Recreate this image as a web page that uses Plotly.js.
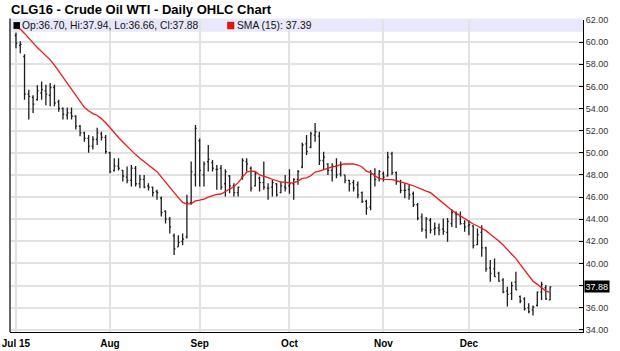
<!DOCTYPE html>
<html>
<head>
<meta charset="utf-8">
<script src="https://cdn.plot.ly/plotly-3.0.1.min.js"></script>
<style>html,body{margin:0;padding:0;background:#fff;}#chart{width:620px;height:351px;}</style>
</head>
<body>
<div id="chart"></div>
<script>
// ---- trading days (2015) ----
const julDays = [1,2,6,7,8,9,10,13,14,15,16,17,20,21,22,23,24,27,28,29,30,31];
const augDays = [3,4,5,6,7,10,11,12,13,14,17,18,19,20,21,24,25,26,27,28,31];
const sepDays = [1,2,3,4,8,9,10,11,14,15,16,17,18,21,22,23,24,25,28,29,30];
const octDays = [1,2,5,6,7,8,9,12,13,14,15,16,19,20,21,22,23,26,27,28,29,30];
const novDays = [2,3,4,5,6,9,10,11,12,13,16,17,18,19,20,23,24,25,27,30];
const decDays = [1,2,3,4,7,8,9,10,11,14,15,16,17,18,21,22,23,24,28,29];

// ---- OHLC values ----
const opens = [60.6,59.7,58.7,55.3,55.0,54.8,55.4,55.6,55.2,55.9,54.6,54.0,53.4,53.6,53.3,52.4,51.8,51.3,50.6,51.2,51.7,51.4,
  50.0,48.4,48.8,48.4,47.8,47.5,48.6,47.2,47.6,47.0,46.9,46.5,45.9,44.7,44.0,42.5,41.5,42.0,42.4,45.5,48.0,
  51.1,48.0,49.2,49.1,48.5,48.6,47.2,47.9,47.0,46.4,47.8,49.2,48.6,47.0,47.7,47.3,46.8,46.9,47.2,46.4,46.9,
  47.0,47.2,47.6,48.7,50.8,50.5,51.6,51.5,49.3,49.0,48.4,48.8,48.1,48.0,47.5,47.3,47.1,46.4,45.6,45.1,48.1,47.7,
  48.1,47.9,49.9,48.2,47.4,46.6,46.7,46.3,45.3,44.2,43.0,43.9,43.1,43.2,43.1,42.8,43.6,44.5,44.3,43.6,
  43.4,43.4,41.7,42.8,41.4,39.6,39.5,39.1,38.5,37.5,37.3,38.3,37.0,36.8,36.0,35.8,36.2,37.4,37.8,36.70];
const highs = [60.85,60.07,58.9,55.7,55.2,56.1,56.45,56.15,56.3,56.15,54.8,54.1,54.1,54.1,53.4,52.5,51.9,51.6,51.5,52.25,51.9,51.6,
  50.1,49.5,49.5,48.45,48.75,48.9,48.8,48.0,48.0,47.25,46.95,46.65,46.05,44.8,44.2,42.7,42.55,42.7,46.2,49.2,52.5,
  51.3,49.2,50.7,49.35,48.9,48.9,48.5,48.0,47.25,46.95,49.5,49.5,48.75,48.3,47.85,49.2,47.25,47.55,47.25,47.4,48.0,
  48.5,47.7,48.45,50.9,51.6,51.9,52.7,51.9,50.1,49.05,49.05,49.5,49.2,48.0,47.55,47.55,47.4,46.5,45.75,48.45,48.6,48.45,
  48.3,50.1,50.1,48.3,47.55,47.25,47.1,46.5,45.45,44.5,44.2,44.1,43.7,43.6,44.05,44.1,44.9,44.7,44.7,43.9,
  43.9,43.45,43.15,43.45,41.5,40.3,40.45,39.25,38.65,37.9,38.35,39.25,37.1,36.95,36.4,36.2,37.45,38.35,38.05,37.94];
const lows = [59.45,59.0,54.8,53.0,53.6,54.7,54.8,54.3,54.2,54.2,53.7,53.0,53.0,53.0,52.1,51.5,51.0,50.0,50.3,50.7,51.1,49.9,
  48.15,48.3,48.4,47.4,47.25,46.95,46.95,46.8,46.8,46.6,46.05,45.75,44.25,43.6,42.7,40.75,41.5,41.65,42.25,45.3,46.95,
  46.95,46.95,48.3,48.3,46.65,46.65,46.05,46.35,46.05,46.05,47.55,48.3,46.5,46.95,46.5,46.65,45.75,46.05,46.05,46.35,46.5,
  46.3,45.75,47.1,48.6,49.8,50.4,51.0,48.9,48.45,48.0,47.4,47.7,47.85,47.25,46.5,46.5,45.9,45.45,44.4,44.8,46.95,47.4,
  47.4,47.85,48.0,47.1,46.35,45.9,45.75,45.1,43.9,42.85,42.25,42.7,42.55,42.55,42.6,41.95,43.3,43.2,43.5,42.85,
  42.55,41.35,41.65,40.6,39.25,38.35,38.8,38.35,37.3,36.1,36.7,37.6,36.4,35.75,35.5,35.3,36.1,36.7,36.7,36.66];
const closes = [59.9,59.8,55.3,55.1,54.4,55.6,55.7,55.3,55.9,54.5,54.0,53.5,53.6,53.3,52.4,51.8,51.3,50.6,51.2,51.8,51.4,50.1,
  48.3,48.8,48.6,47.9,47.5,48.6,47.2,47.6,46.9,46.9,46.4,46.4,44.6,44.0,43.3,41.3,41.9,42.2,45.5,48.3,52.2,
  48.4,49.0,49.4,48.6,48.5,46.9,48.3,47.0,46.4,46.9,49.3,49.0,46.8,48.1,47.3,46.9,46.8,47.3,46.2,47.0,46.8,
  47.2,47.6,48.3,50.7,50.1,51.7,51.9,49.3,49.6,48.4,48.8,48.0,48.9,47.5,47.2,46.8,46.2,45.6,45.0,48.1,47.6,48.3,
  47.8,49.6,48.2,47.4,46.6,46.6,46.2,45.3,44.1,43.1,44.0,43.0,43.2,43.0,42.9,43.8,44.6,44.4,43.6,43.3,
  43.5,41.6,42.6,41.4,39.5,39.1,38.8,38.4,37.4,37.2,38.0,37.6,36.6,35.9,35.65,36.05,37.4,38.1,36.8,37.88];
// closes before the first visible bar (June 2015), used only for the moving average
const juneCloses = [61.6,61.2,60.9,61.4,61.8,61.3,61.0,61.4,61.8,61.9,61.6,61.7,61.4,60.6];
const smaPeriod = 15;

// ---- axis labels ----
const monthTickDates = ['2015-07-01','2015-08-03','2015-09-01','2015-10-01','2015-11-02','2015-12-01'];
const monthTickLabels = ['Jul 15','Aug','Sep','Oct','Nov','Dec'];
const priceTicks = [34,36,38,40,42,44,46,48,50,52,54,56,58,60,62];

const pad = d => (d < 10 ? '0' : '') + d;
const dates = [].concat(
  julDays.map(d => '2015-07-' + pad(d)),
  augDays.map(d => '2015-08-' + pad(d)),
  sepDays.map(d => '2015-09-' + pad(d)),
  octDays.map(d => '2015-10-' + pad(d)),
  novDays.map(d => '2015-11-' + pad(d)),
  decDays.map(d => '2015-12-' + pad(d))
);

const allCloses = juneCloses.concat(closes);
const sma = closes.map((c, i) => {
  const j = i + juneCloses.length;
  let s = 0;
  for (let k = j - smaPeriod + 1; k <= j; k++) s += allCloses[k];
  return s / smaPeriod;
});

const n = closes.length - 1;
const tickIdx = monthTickDates.map(d => dates.indexOf(d));

// geometry helpers (pixel -> paper)
const W = 620, H = 351;
const mL = 10, mR = 37, mT = 20.4, mB = 19.3;
const pw = W - mL - mR, ph = H - mT - mB;
const px = x => (x - mL) / pw;
const py = y => 1 - (y - mT) / ph;

const font = 'Liberation Sans, Arial, Helvetica, sans-serif';

const traces = [
  {
    type: 'ohlc', x: dates, open: opens, high: highs, low: lows, close: closes,
    increasing: {line: {color: '#1c1c1c', width: 1.3}},
    decreasing: {line: {color: '#1c1c1c', width: 1.3}},
    tickwidth: 0.3, hoverinfo: 'skip'
  },
  {
    type: 'scatter', mode: 'lines', x: dates, y: sma,
    line: {color: '#f01818', width: 1.3}, hoverinfo: 'skip'
  }
];

const layout = {
  width: W, height: H,
  margin: {l: mL, r: mR, t: mT, b: mB, pad: 0},
  paper_bgcolor: '#ffffff', plot_bgcolor: '#ffffff',
  showlegend: false,
  font: {family: font, size: 10, color: '#222'},
  xaxis: {
    type: 'category', range: [-1.4, 132.7],
    tickmode: 'array', tickvals: tickIdx, ticktext: monthTickLabels,
    tickfont: {family: font, size: 10, color: '#000', weight: 'bold'},
    ticklabelstandoff: 2,
    showgrid: true, gridcolor: '#e2e2e2', gridwidth: 2,
    showline: true, linecolor: '#000', linewidth: 1,
    ticks: '', zeroline: false, fixedrange: true,
    rangeslider: {visible: false}
  },
  yaxis: {
    side: 'right', range: [33.8, 62],
    tickmode: 'array', tickvals: priceTicks, tickformat: '.2f',
    tickfont: {family: font, size: 9, color: '#333'},
    showgrid: true, gridcolor: '#e2e2e2', gridwidth: 2,
    showline: true, linecolor: '#000', linewidth: 1,
    ticks: 'inside', ticklen: 4, tickcolor: '#000',
    zeroline: false, fixedrange: true
  },
  shapes: [
    {type: 'rect', xref: 'paper', yref: 'paper', x0: 0, x1: 1, y0: py(32), y1: py(18.8),
     fillcolor: '#e8e8fa', line: {width: 0}, layer: 'below'},
    {type: 'line', xref: 'paper', yref: 'paper', x0: 0, x1: 0, y0: 0, y1: py(18.8),
     line: {color: '#333', width: 1.5}},
    {type: 'rect', xref: 'paper', yref: 'paper', x0: px(13.5), x1: px(20), y0: py(29.3), y1: py(22.5),
     fillcolor: '#000', line: {width: 0}},
    {type: 'rect', xref: 'paper', yref: 'paper', x0: px(227.5), x1: px(234), y0: py(29.3), y1: py(22.5),
     fillcolor: '#ee1111', line: {color: '#900', width: 0.5}}
  ],
  annotations: [
    {text: '<b>CLG16 - Crude Oil WTI - Daily OHLC Chart</b>', xref: 'paper', yref: 'paper',
     x: px(9.5), y: py(9.5), xanchor: 'left', yanchor: 'middle', showarrow: false, borderpad: 0,
     font: {family: font, size: 13, color: '#000'}},
    {text: 'Op:' + opens[n].toFixed(2) + ', Hi:' + highs[n].toFixed(2) + ', Lo:' + lows[n].toFixed(2) + ', Cl:' + closes[n].toFixed(2),
     xref: 'paper', yref: 'paper', x: px(20.5), y: py(26), xanchor: 'left', yanchor: 'middle',
     showarrow: false, borderpad: 0, font: {family: font, size: 10.3, color: '#111'}},
    {text: 'SMA (15): ' + sma[n].toFixed(2),
     xref: 'paper', yref: 'paper', x: px(235.5), y: py(26), xanchor: 'left', yanchor: 'middle',
     showarrow: false, borderpad: 0, font: {family: font, size: 10.3, color: '#111'}},
    {text: closes[n].toFixed(2), xref: 'paper', yref: 'y', x: 1, y: closes[n],
     xanchor: 'left', yanchor: 'middle', xshift: 1, showarrow: false, borderpad: 0.5,
     bgcolor: '#000', font: {family: font, size: 9, color: '#fff'}}
  ]
};

Plotly.newPlot('chart', traces, layout, {staticPlot: true, displayModeBar: false});
</script>
</body>
</html>
